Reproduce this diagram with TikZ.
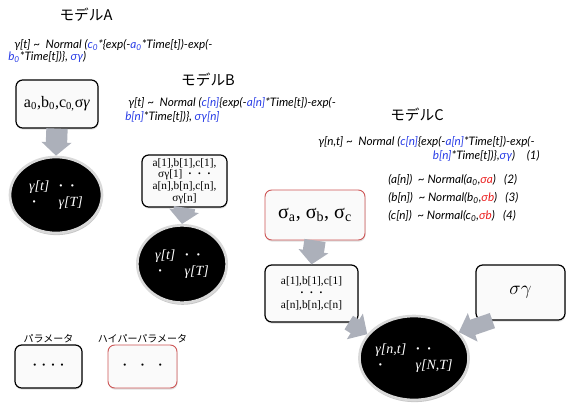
\documentclass[tikz,border=0pt]{standalone}
\usepackage{fontspec}
\setmainfont{Liberation Serif}
\newfontfamily\jpfont{Noto Sans CJK JP}
\newfontfamily\eqfont{Lato}
\usetikzlibrary{arrows.meta,shadows,shapes.geometric}
\definecolor{eqblue}{RGB}{40,60,230}
\definecolor{eqred}{RGB}{235,30,30}
\definecolor{arrowgray}{RGB}{172,176,186}
\definecolor{hyperred}{RGB}{205,85,85}
\newcommand{\bl}[1]{\textcolor{eqblue}{#1}}
\newcommand{\rd}[1]{\textcolor{eqred}{#1}}
\newcommand{\tld}{\textasciitilde}
\newcommand{\sub}[1]{\textsubscript{#1}}
\begin{document}
\begin{tikzpicture}[x=0.75pt,y=-0.75pt,line cap=round,line join=round,
  modeltitle/.style={font=\jpfont\fontsize{11}{13}\selectfont},
  formula/.style={anchor=west,inner sep=0pt,font=\eqfont\itshape\fontsize{8.8}{10}\selectfont},
  parambox/.style={draw=black,line width=0.9pt,rounded corners=5pt,fill=gray!4,align=center,inner sep=1pt,
    drop shadow={opacity=0.25,shadow xshift=0.4pt,shadow yshift=-1.2pt}},
  hyperbox/.style={parambox,draw=hyperred,line width=0.7pt},
  dataell/.style={ellipse,fill=black,draw=gray!30,line width=2pt,text=white,inner sep=0pt,
    font=\itshape\fontsize{10.5}{12}\selectfont,
    drop shadow={opacity=0.45,shadow xshift=0.5pt,shadow yshift=-1.6pt}},
  bigarrow/.style={draw=arrowgray,line width=16pt,line cap=butt,-{Triangle[width=22pt,length=10pt]}},
  slantarrow/.style={draw=arrowgray,line width=12pt,line cap=butt,-{Triangle[width=22pt,length=11pt]}},
  legendlabel/.style={font=\jpfont\fontsize{7.5}{9}\selectfont,inner sep=1pt}]
  \useasboundingbox (0,0) rectangle (566,407);

  % model A
  \node[modeltitle] (titleA) at (86,15) {モデルA};
  \node[formula] (eqA1) at (14,45) {γ[t] \tld\ \ Normal (\bl{c\sub{0}}*\{exp(-\bl{a\sub{0}}*Time[t])-exp(-};
  \node[formula] (eqA2) at (8,57) {\bl{b\sub{0}}*Time[t])\}, \bl{σγ})};
  \node[parambox,minimum width=61.5pt,minimum height=36pt,font=\fontsize{12}{14}\selectfont] (boxA) at (57,104)
    {a\sub{0},b\sub{0},c\sub{0,}σ\textit{γ}};
  \node[dataell,minimum width=69pt,minimum height=57pt] (ellA) at (56,195)
    {\begin{tabular}{@{}l@{\hspace{7pt}}l@{}}γ[t] & {\upshape\bfseries ·\hspace{5pt}·}\\ \hspace{2pt}{\upshape\bfseries ·} & γ[T]\end{tabular}};
  \draw[bigarrow] (boxA.south) -- (ellA.north);

  % model B
  \node[modeltitle] (titleB) at (208,80) {モデルB};
  \node[formula] (eqB1) at (128,103) {γ[t] \tld\ \ Normal (\bl{c[n]}\{exp(-\bl{a[n]}*Time[t])-exp(-};
  \node[formula] (eqB2) at (125,117) {\bl{b[n]}*Time[t])\}, \bl{σγ[n]}};
  \node[parambox,minimum width=63.75pt,minimum height=39pt,font=\fontsize{8.5}{8.8}\selectfont] (boxB) at (184.5,181)
    {a[1],b[1],c[1],\\σγ[1]\ \ \textbf{·}\ \ \textbf{·}\ \ \textbf{·}\\a[n],b[n],c[n],\\σγ[n]};
  \node[dataell,minimum width=67pt,minimum height=58pt] (ellB) at (182,264)
    {\begin{tabular}{@{}l@{\hspace{7pt}}l@{}}γ[t] & {\upshape\bfseries ·\hspace{5pt}·}\\ \hspace{2pt}{\upshape\bfseries ·} & γ[T]\end{tabular}};
  \draw[bigarrow] (boxB.south) -- (ellB.north);

  % model C
  \node[modeltitle] (titleC) at (417,115) {モデルC};
  \node[formula] (eqC1) at (318,142) {γ[n,t] \tld\ \ Normal (\bl{c[n]}\{exp(-\bl{a[n]}*Time[t])-exp(-};
  \node[formula,anchor=east] (eqC2) at (540,156) {\bl{b[n]}*Time[t])\},\bl{σγ})\quad (1)};
  \node[formula] (eqC3) at (388,180) {(a[n])\ \ \tld\ Normal(a\sub{0},\rd{σa})\ \ \ (2)};
  \node[formula] (eqC4) at (388,198) {(b[n])\ \ \tld\ Normal(b\sub{0},\rd{σb})\ \ \ (3)};
  \node[formula] (eqC5) at (388,216) {(c[n])\ \ \tld\ Normal(c\sub{0},\rd{σb})\ \ \ (4)};
  \node[hyperbox,minimum width=75pt,minimum height=37.5pt,font=\fontsize{15}{17}\selectfont] (hyperC) at (315,215)
    {σ\sub{a}, σ\sub{b}, σ\sub{c}};
  \node[parambox,minimum width=69.75pt,minimum height=42.75pt,font=\fontsize{8.5}{9}\selectfont] (boxC) at (311.5,293.5)
    {a[1],b[1],c[1]\\\textbf{·}\ \ \textbf{·}\ \ \textbf{·}\\a[n],b[n],c[n]};
  \node[parambox,minimum width=66.75pt,minimum height=41.25pt,font=\fontsize{15}{17}\selectfont] (sigmaC) at (520.5,292.5)
    {$\sigma\gamma$};
  \node[dataell,minimum width=69pt,minimum height=63pt] (ellC) at (414,358)
    {\begin{tabular}{@{}l@{\hspace{7pt}}l@{}}γ[n,t] & {\upshape\bfseries ·\hspace{5pt}·}\\ \hspace{2pt}{\upshape\bfseries ·} & γ[N,T]\end{tabular}};
  \draw[bigarrow] (hyperC.south) -- (boxC.north);
  \draw[slantarrow] (boxC.-38) -- (ellC.153);
  \draw[slantarrow] (sigmaC.-135) -- (ellC.30);

  % legend
  \node[parambox,minimum width=50.25pt,minimum height=32.25pt] (legPar) at (48.5,366.5)
    {\bfseries ·\hspace{3.5pt}·\hspace{3.5pt}·\hspace{3.5pt}·};
  \node[hyperbox,minimum width=51.75pt,minimum height=32.25pt] (legHyper) at (142.5,366.5)
    {\bfseries ·\hspace{10pt}·\hspace{10pt}·};
  \node[legendlabel,above=0pt] (labPar) at (legPar.north) {パラメータ};
  \node[legendlabel,above=0pt] (labHyper) at (legHyper.north) {ハイパーパラメータ};
\end{tikzpicture}
\end{document}
